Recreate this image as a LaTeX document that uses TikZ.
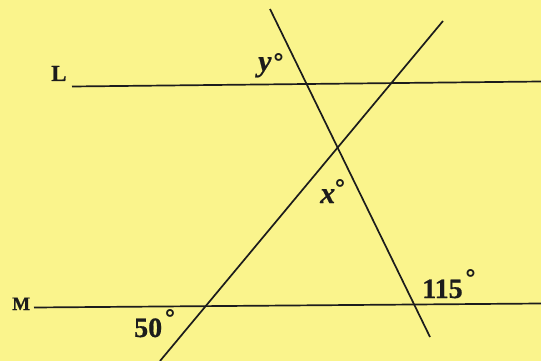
\documentclass[tikz,border=0pt]{standalone}
\usepackage{fontspec}
\setmainfont{Liberation Serif}[BoldFeatures={FakeBold=0.6},BoldItalicFeatures={FakeBold=0.6}]
\newfontfamily\degfont{DejaVu Sans}
\definecolor{paper}{RGB}{250,244,140}
\definecolor{ink}{RGB}{28,28,28}
\newcommand\degr[1]{\raisebox{#1}{\degfont\bfseries\fontsize{24}{24}\selectfont °}}
\begin{document}
\begin{tikzpicture}[x=1pt,y=-1pt,
  ln/.style={draw=ink,line width=1.7pt},
  numlbl/.style={inner sep=0pt,anchor=base west,text=ink,font=\bfseries\fontsize{28}{30}\selectfont},
  varlbl/.style={numlbl,font=\bfseries\itshape\fontsize{30}{32}\selectfont},
  linelbl/.style={inner sep=0pt,anchor=base west,text=ink,font=\bfseries\fontsize{23}{25}\selectfont}]
\fill[paper] (0,0) rectangle (541,361);
\useasboundingbox (0,0) rectangle (541,361);
% line end points
\coordinate (L1) at (72,86.5);
\coordinate (L2) at (541,81.5);
\coordinate (M1) at (34,307.5);
\coordinate (M2) at (541,303.5);
\coordinate (A1) at (443,21);
\coordinate (A2) at (160,361);
\coordinate (B1) at (270,9);
\coordinate (B2) at (430,337);
\draw[ln] (L1) -- (L2);
\draw[ln] (M1) -- (M2);
\draw[ln] (A1) -- (A2);
\draw[ln] (B1) -- (B2);
% labels
\node[linelbl] (nL) at (51,81) {L};
\node[linelbl,font=\bfseries\fontsize{19}{21}\selectfont] (nM) at (12,310) {M};
\node[varlbl] (ny) at (258,71) {y\kern1pt\degr{0pt}};
\node[varlbl] (nx) at (320,203) {x\kern-1pt\degr{6pt}};
\node[numlbl] (n115) at (422,298) {115\kern2pt\degr{11pt}};
\node[numlbl] (n50) at (134,337) {50\kern2pt\degr{10pt}};
\end{tikzpicture}
\end{document}
